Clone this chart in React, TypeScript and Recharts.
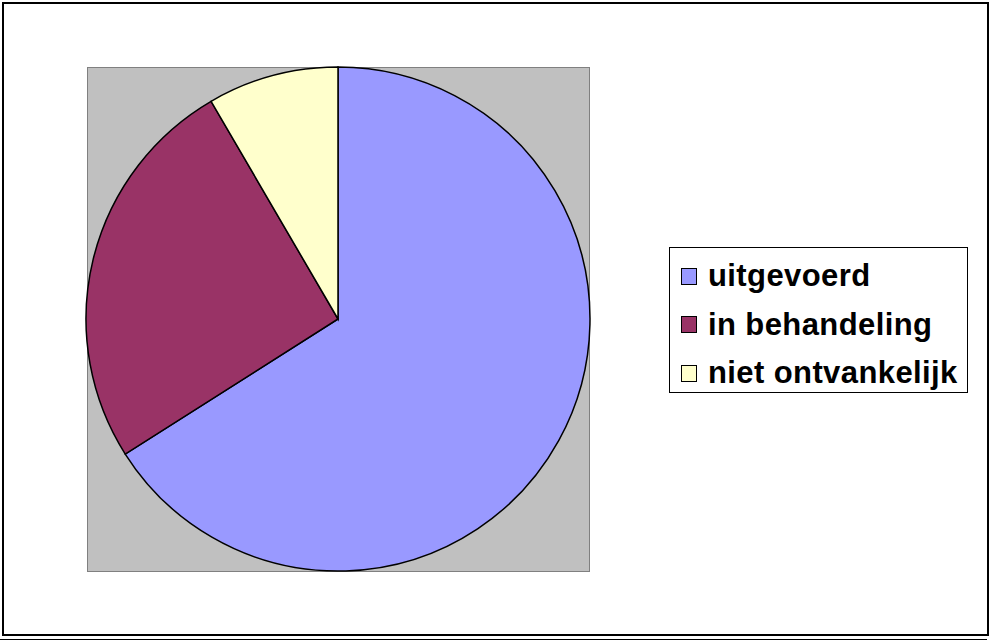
import { PieChart, Pie, Cell, Legend } from "recharts";

const categories = ["uitgevoerd", "in behandeling", "niet ontvankelijk"];
const values = [66.0, 25.6, 8.4];
const colors = ["#9999FF", "#993366", "#FFFFCC"];

const data = categories.map((name, i) => ({ name, value: values[i] }));

function LegendBox() {
  return (
    <div
      style={{
        boxSizing: "border-box",
        width: 299,
        height: 146,
        border: "1.5px solid #000",
        background: "#fff",
        paddingTop: 4,
        paddingLeft: 11,
      }}
    >
      {categories.map((c, i) => (
        <div
          key={c}
          style={{
            display: "flex",
            alignItems: "center",
            height: 48.5,
          }}
        >
          <div
            style={{
              width: 16,
              height: 17,
              boxSizing: "border-box",
              border: "1px solid #000",
              backgroundColor: colors[i],
              marginRight: 11,
            }}
          />
          <span
            style={{
              fontFamily: "'Liberation Sans', Arial, sans-serif",
              fontWeight: "bold",
              fontSize: 31,
              letterSpacing: 0.4,
              color: "#000",
              lineHeight: "48px",
            }}
          >
            {c}
          </span>
        </div>
      ))}
    </div>
  );
}

export default function App() {
  return (
    <div style={{ position: "relative", width: 989, height: 641, background: "#fff" }}>
      <style>{`body{margin:0}`}</style>
      {/* chart border */}
      <div
        style={{
          position: "absolute",
          left: 2,
          top: 2,
          width: 987,
          height: 634,
          boxSizing: "border-box",
          border: "2.5px solid #000",
        }}
      />
      <div
        style={{
          position: "absolute",
          left: 0,
          top: 639,
          width: 987,
          height: 1,
          background: "#000",
        }}
      />
      {/* plot area */}
      <div
        style={{
          position: "absolute",
          left: 87,
          top: 67,
          width: 503,
          height: 505,
          boxSizing: "border-box",
          background: "#C0C0C0",
          border: "1.5px solid #808080",
        }}
      />
      <div style={{ position: "absolute", left: 0, top: 0 }}>
        <PieChart width={989} height={641} margin={{ top: 0, right: 0, bottom: 0, left: 0 }}>
          <Pie
            data={data}
            dataKey="value"
            nameKey="name"
            cx={338}
            cy={319}
            outerRadius={252}
            startAngle={90}
            endAngle={-270}
            stroke="#000"
            strokeWidth={1.5}
            isAnimationActive={false}
          >
            {data.map((d, i) => (
              <Cell key={d.name} fill={colors[i]} />
            ))}
          </Pie>
          <Legend
            layout="vertical"
            align="right"
            verticalAlign="top"
            content={() => <LegendBox />}
            wrapperStyle={{ left: 669, top: 247, width: 299, right: "auto" }}
          />
        </PieChart>
      </div>
    </div>
  );
}
